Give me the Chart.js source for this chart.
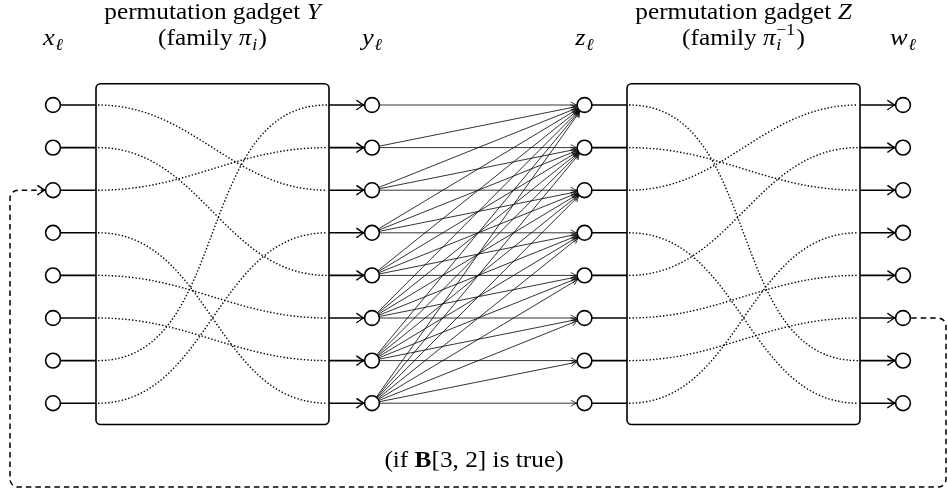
<!DOCTYPE html>
<html><head><meta charset="utf-8">
<script src="https://cdn.jsdelivr.net/npm/chart.js@4.4.1/dist/chart.umd.min.js"></script>
<style>html,body{margin:0;padding:0;background:#fff}canvas{display:block}</style>
</head><body>
<canvas id="c" width="948" height="492"></canvas>
<script>
// ---------------- data ----------------
const ROWS = [1, 2, 3, 4, 5, 6, 7, 8];
// permutation gadget Y: left row i -> right row PI[i-1]
const PI = [3, 5, 2, 8, 6, 7, 1, 4];
// permutation gadget Z: inverse permutation
const PI_INV = [7, 3, 1, 8, 2, 5, 6, 4];
// complete "lower" bipartite connections: y_i -> z_j
const EDGE_TARGETS = [
  [1],
  [1, 2],
  [1, 2, 3],
  [1, 2, 3, 4],
  [1, 2, 3, 4, 5],
  [1, 2, 3, 4, 5, 6],
  [1, 2, 3, 4, 5, 6, 7],
  [1, 2, 3, 4, 5, 6, 7, 8]
];
const COLUMN_LETTERS = ['x', 'y', 'z', 'w'];
const LOOP_FROM_ROW = 6;   // leaves w_6
const LOOP_TO_ROW = 3;     // enters x_3
const GADGET_NAMES = ['Y', 'Z'];
const GADGET_FAMILIES = ['\u03C0', '\u03C0'];
const GADGET_SUPER = ['', '\u22121'];
const CONDITION = ['B', '[3, 2] is true'];

// ---------------- layout ----------------
const L = {
  colX: [53, 372, 584.5, 903],
  boxes: [[96, 329], [627, 860]],
  boxRows: [0.5, 8.5],
  loopRight: 946, loopLeft: 10, loopBottomRow: 9.97,
  nodeR: 7.4,
  titleRow: -1.03, familyRow: -0.42, condRow: 9.5,
  condX: 474,
  font: '"Liberation Serif", "DejaVu Serif", serif', fontSize: 23, hScale: 1.1
};
const ROW_TOP_PX = 105, ROW_GAP_PX = 42.6;
const Y_MIN = 1 - ROW_TOP_PX / ROW_GAP_PX;
const Y_MAX = Y_MIN + 492 / ROW_GAP_PX;

// ---------------- datasets ----------------
const datasets = [];
function seg(p, q, lw, arrow) {
  return { data: [p, q], showLine: true, borderColor: '#000', borderWidth: lw,
    pointRadius: 0, order: 3, diagram: arrow ? { kind: 'line', arrow } : null };
}
L.boxes.forEach(b => datasets.push({
  data: [{ x: b[0], y: L.boxRows[0] }, { x: b[1], y: L.boxRows[1] }],
  showLine: false, pointRadius: 0, order: 6, diagram: { kind: 'box' } }));
ROWS.forEach((r, i) => datasets.push({
  data: [{ x: L.boxes[0][0], y: r }, { x: L.boxes[0][1], y: PI[i] }],
  showLine: false, pointRadius: 0, order: 6, diagram: { kind: 'curve' } }));
ROWS.forEach((r, i) => datasets.push({
  data: [{ x: L.boxes[1][0], y: r }, { x: L.boxes[1][1], y: PI_INV[i] }],
  showLine: false, pointRadius: 0, order: 6, diagram: { kind: 'curve' } }));
ROWS.forEach(r => {
  datasets.push(seg({ x: L.colX[0], y: r }, { x: L.boxes[0][0], y: r }, 1.6, null));
  datasets.push(seg({ x: L.boxes[0][1], y: r }, { x: L.colX[1], y: r }, 1.6, 'thick'));
  datasets.push(seg({ x: L.colX[2], y: r }, { x: L.boxes[1][0], y: r }, 1.6, null));
  datasets.push(seg({ x: L.boxes[1][1], y: r }, { x: L.colX[3], y: r }, 1.6, 'thick'));
});
EDGE_TARGETS.forEach((targets, i) => targets.forEach(t =>
  datasets.push(seg({ x: L.colX[1], y: ROWS[i] }, { x: L.colX[2], y: t }, 0.8, 'thin'))));
datasets.push({
  data: [
    { x: L.colX[3], y: LOOP_FROM_ROW }, { x: L.loopRight, y: LOOP_FROM_ROW },
    { x: L.loopRight, y: L.loopBottomRow }, { x: L.loopLeft, y: L.loopBottomRow },
    { x: L.loopLeft, y: LOOP_TO_ROW }, { x: L.colX[0], y: LOOP_TO_ROW }
  ],
  showLine: false, pointRadius: 0, order: 6, diagram: { kind: 'loop', arrow: 'thick' } });
const nodes = [];
L.colX.forEach(cx => ROWS.forEach(r => nodes.push({ x: cx, y: r })));
datasets.push({ data: nodes, showLine: false, pointRadius: L.nodeR, pointStyle: 'circle',
  pointBackgroundColor: '#fff', pointBorderColor: '#000', pointBorderWidth: 1.6, order: 0 });

// ---------------- drawing helpers ----------------
const ARROWS = { thick: { len: 7, half: 4.5, lw: 1.4 }, thin: { len: 5.2, half: 2.8, lw: 0.75 } };
function arrowHead(ctx, tip, ang, spec) {
  ctx.save();
  ctx.translate(tip.x, tip.y); ctx.rotate(ang);
  ctx.setLineDash([]);
  ctx.beginPath();
  ctx.moveTo(-spec.len, -spec.half);
  ctx.quadraticCurveTo(-spec.len * 0.25, -spec.half * 0.2, 0, 0);
  ctx.quadraticCurveTo(-spec.len * 0.25, spec.half * 0.2, -spec.len, spec.half);
  ctx.lineWidth = spec.lw; ctx.strokeStyle = '#000';
  ctx.lineCap = 'round'; ctx.lineJoin = 'round';
  ctx.stroke();
  ctx.restore();
}
function fontFor(f, size) {
  return (f === 'it' ? 'italic ' : '') + (f === 'bf' ? 'bold ' : '') + size + 'px ' + L.font;
}
function drawRich(ctx, segs, cx, by, size) {
  let cursor = 0, prevStart = 0;
  const items = [];
  segs.forEach(s => {
    const fs = size * (s.scale || 1);
    const font = fontFor(s.f, fs);
    ctx.font = font;
    const w = ctx.measureText(s.t).width;
    const sx = s.stack ? prevStart : cursor + (s.gap || 0) * size;
    items.push({ t: s.t, font, x: sx, dy: (s.dy || 0) * size });
    prevStart = sx;
    cursor = Math.max(cursor, sx + w);
  });
  ctx.save();
  ctx.translate(cx, by);
  ctx.scale(L.hScale, 1);
  const x0 = -cursor / 2;
  ctx.fillStyle = '#000'; ctx.textBaseline = 'alphabetic'; ctx.textAlign = 'left';
  items.forEach(it => { ctx.font = it.font; ctx.fillText(it.t, x0 + it.x, it.dy); });
  ctx.restore();
}

const diagramPlugin = {
  id: 'diagram',
  beforeDatasetsDraw(chart) {
    const ctx = chart.ctx;
    chart.data.datasets.forEach((ds, i) => {
      const d = ds.diagram; if (!d) return;
      const pts = chart.getDatasetMeta(i).data;
      ctx.save();
      ctx.strokeStyle = '#000';
      if (d.kind === 'box') {
        const x0 = pts[0].x, y0 = pts[0].y, x1 = pts[1].x, y1 = pts[1].y, r = 4.5;
        ctx.lineWidth = 1.6;
        ctx.beginPath();
        ctx.moveTo(x0 + r, y0);
        ctx.arcTo(x1, y0, x1, y1, r); ctx.arcTo(x1, y1, x0, y1, r);
        ctx.arcTo(x0, y1, x0, y0, r); ctx.arcTo(x0, y0, x1, y0, r);
        ctx.closePath(); ctx.stroke();
      } else if (d.kind === 'curve') {
        const p = pts[0], q = pts[1];
        const c = 0.3915 * Math.hypot(q.x - p.x, q.y - p.y);
        ctx.lineWidth = 1.4; ctx.setLineDash([1.4, 2.0]);
        ctx.beginPath();
        ctx.moveTo(p.x + 2, p.y);
        ctx.bezierCurveTo(p.x + c, p.y, q.x - c, q.y, q.x - 2, q.y);
        ctx.stroke();
      } else if (d.kind === 'loop') {
        const n = pts.length, r = 8, off = L.nodeR + 0.8;
        const a = pts[0], b = pts[1];
        const la = Math.hypot(b.x - a.x, b.y - a.y);
        const s = { x: a.x + (b.x - a.x) / la * off, y: a.y + (b.y - a.y) / la * off };
        ctx.lineWidth = 1.5; ctx.setLineDash([5.5, 4]);
        ctx.beginPath(); ctx.moveTo(s.x, s.y);
        for (let k = 1; k < n - 1; k++) ctx.arcTo(pts[k].x, pts[k].y, pts[k + 1].x, pts[k + 1].y, r);
        const e = pts[n - 1], pe = pts[n - 2];
        const le = Math.hypot(e.x - pe.x, e.y - pe.y);
        ctx.lineTo(e.x - (e.x - pe.x) / le * off, e.y - (e.y - pe.y) / le * off);
        ctx.stroke();
      }
      ctx.restore();
    });
  },
  afterDatasetsDraw(chart) {
    const ctx = chart.ctx;
    chart.data.datasets.forEach((ds, i) => {
      const d = ds.diagram; if (!d || !d.arrow) return;
      const pts = chart.getDatasetMeta(i).data;
      const e = pts[pts.length - 1], p = pts[pts.length - 2];
      const ang = Math.atan2(e.y - p.y, e.x - p.x);
      const off = L.nodeR + 0.8;
      arrowHead(ctx, { x: e.x - Math.cos(ang) * off, y: e.y - Math.sin(ang) * off }, ang, ARROWS[d.arrow]);
    });
  },
  afterDraw(chart) {
    const ctx = chart.ctx, xs = chart.scales.x, ys = chart.scales.y, fs = L.fontSize;
    ctx.save();
    const tY = ys.getPixelForValue(L.titleRow), fY = ys.getPixelForValue(L.familyRow);
    L.boxes.forEach((b, g) => {
      const cx = (xs.getPixelForValue(b[0]) + xs.getPixelForValue(b[1])) / 2;
      drawRich(ctx, [{ t: 'permutation gadget ', f: 'rm' }, { t: GADGET_NAMES[g], f: 'it' }], cx, tY, fs);
      const fam = [{ t: '(family ', f: 'rm' }, { t: GADGET_FAMILIES[g], f: 'it' },
        { t: 'i', f: 'it', scale: 0.7, dy: 0.22, gap: 0.03 }];
      if (GADGET_SUPER[g]) fam.push({ t: GADGET_SUPER[g], f: 'rm', scale: 0.7, dy: -0.42, stack: true });
      fam.push({ t: ')', f: 'rm', gap: 0.05 });
      drawRich(ctx, fam, cx, fY, fs);
    });
    COLUMN_LETTERS.forEach((c, k) => {
      drawRich(ctx, [{ t: c, f: 'it' }, { t: '\u2113', f: 'it', scale: 0.7, dy: 0.22, gap: 0.02 }],
        xs.getPixelForValue(L.colX[k]), fY, fs + 1);
    });
    drawRich(ctx, [{ t: '(if ', f: 'rm' }, { t: CONDITION[0], f: 'bf' }, { t: CONDITION[1] + ')', f: 'rm' }],
      xs.getPixelForValue(L.condX), ys.getPixelForValue(L.condRow), fs);
    ctx.restore();
  }
};

new Chart(document.getElementById('c'), {
  type: 'scatter',
  data: { datasets },
  options: {
    responsive: false, animation: false, events: [],
    layout: { padding: 0, autoPadding: false },
    scales: {
      x: { type: 'linear', min: 0, max: 948, display: false },
      y: { type: 'linear', min: Y_MIN, max: Y_MAX, reverse: true, display: false }
    },
    plugins: { legend: { display: false }, tooltip: { enabled: false } }
  },
  plugins: [diagramPlugin]
});
</script>
</body></html>
